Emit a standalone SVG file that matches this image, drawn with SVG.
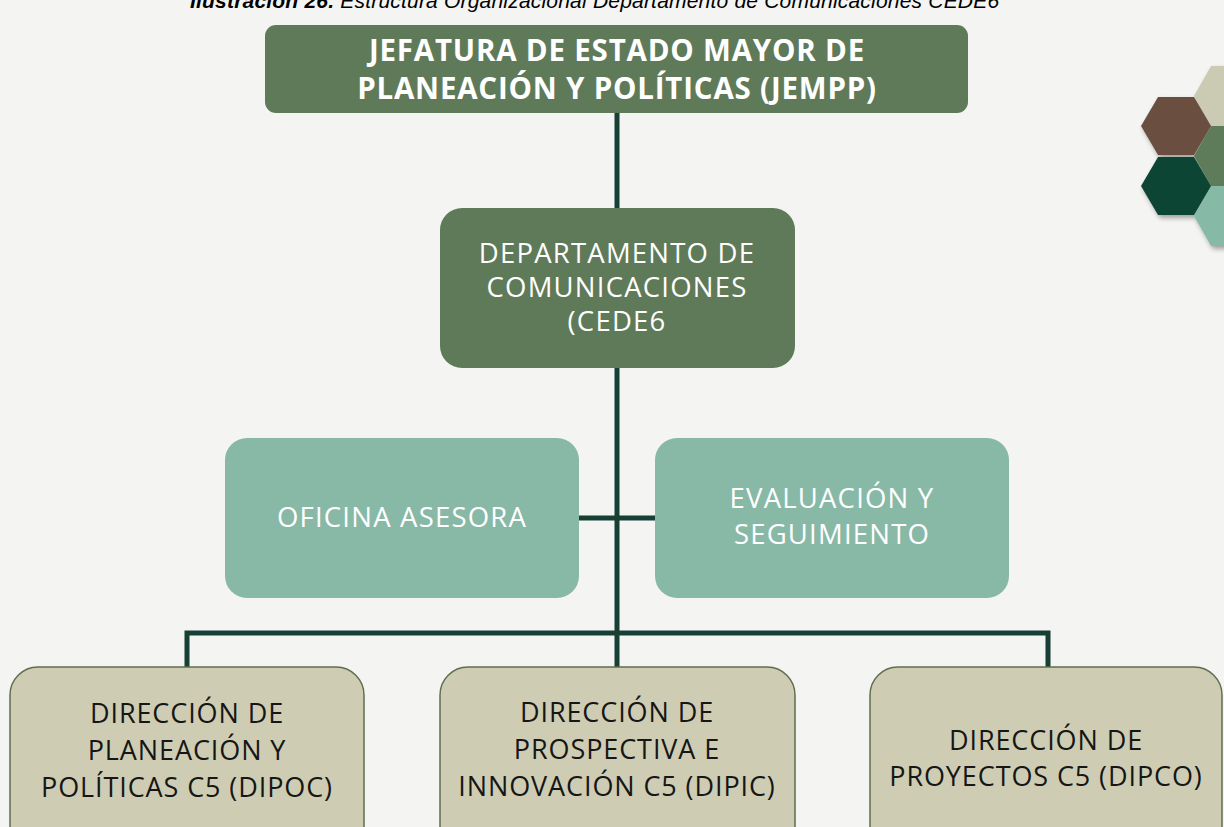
<svg xmlns="http://www.w3.org/2000/svg" width="1224" height="827" viewBox="0 0 1224 827">
<defs>
<style>
.caption{font-family:"Liberation Sans",Arial,sans-serif;font-size:21px;font-style:italic;fill:#000;letter-spacing:0.2px}
.conn{stroke:#173f33;stroke-width:5;fill:none}
.dark{fill:#5f7a59}
.mint{fill:#88b9a7}
.khaki{fill:#cecdb3;stroke:#5f6e50;stroke-width:1.5}
.tb{font-family:"Open Sans","DejaVu Sans",sans-serif;font-weight:bold;font-size:29.5px;fill:#fff;text-anchor:middle;letter-spacing:0.8px}
.tw{font-family:"Open Sans","DejaVu Sans",sans-serif;font-size:27.5px;fill:#fff;text-anchor:middle;letter-spacing:1.2px}
.tk{font-family:"Open Sans","DejaVu Sans",sans-serif;font-size:27px;fill:#161616;text-anchor:middle;letter-spacing:0.9px}
</style>
<filter id="sh" x="-20%" y="-20%" width="150%" height="150%">
<feDropShadow dx="2" dy="3" stdDeviation="2.5" flood-color="#000" flood-opacity="0.35"/>
</filter>
</defs>
<rect width="1224" height="827" fill="#f4f4f2"/>
<text class="caption" x="190" y="8"><tspan font-weight="bold">Ilustración 26.</tspan> Estructura Organizacional Departamento de Comunicaciones CEDE6</text>

<g id="hexagons" filter="url(#sh)">
<polygon points="1194,96 1211,66 1246,66 1263,96 1246,126 1211,126" fill="#cbcbb3"/>
<polygon points="1194,156 1211,126 1246,126 1263,156 1246,186 1211,186" fill="#5e7b5a"/>
<polygon points="1194,216 1211,186 1246,186 1263,216 1246,246 1211,246" fill="#86b9a6"/>
<polygon points="1141,126 1158,97 1194,97 1211,126 1194,155 1158,155" fill="#6b5041"/>
<polygon points="1141,186 1158,157 1194,157 1211,186 1194,215 1158,215" fill="#0f4535"/>
</g>

<g id="connectors">
<line class="conn" x1="617" y1="112" x2="617" y2="209"/>
<line class="conn" x1="617" y1="367" x2="617" y2="668"/>
<line class="conn" x1="578" y1="518" x2="656" y2="518"/>
<polyline class="conn" points="187,668 187,633 1048,633 1048,668"/>
</g>

<g id="jempp">
<rect class="dark" x="265" y="25" width="703" height="88" rx="11"/>
<text class="tb" x="617" y="61">JEFATURA DE ESTADO MAYOR DE</text>
<text class="tb" x="617" y="99">PLANEACIÓN Y POLÍTICAS (JEMPP)</text>
</g>

<g id="cede6">
<rect class="dark" x="440" y="208" width="355" height="160" rx="22"/>
<text class="tw" x="617" y="263">DEPARTAMENTO DE</text>
<text class="tw" x="617" y="297">COMUNICACIONES</text>
<text class="tw" x="617" y="331">(CEDE6</text>
</g>

<g id="oficina">
<rect class="mint" x="225" y="438" width="354" height="160" rx="22"/>
<text class="tw" x="402" y="527">OFICINA ASESORA</text>
</g>

<g id="evaluacion">
<rect class="mint" x="655" y="438" width="354" height="160" rx="22"/>
<text class="tw" x="832" y="508">EVALUACIÓN Y</text>
<text class="tw" x="832" y="544">SEGUIMIENTO</text>
</g>

<g id="dipoc">
<rect class="khaki" x="10" y="667" width="354" height="190" rx="28"/>
<text class="tk" x="187" y="723">DIRECCIÓN DE</text>
<text class="tk" x="187" y="760">PLANEACIÓN  Y</text>
<text class="tk" x="187" y="797">POLÍTICAS C5 (DIPOC)</text>
</g>

<g id="dipic">
<rect class="khaki" x="440" y="667" width="355" height="190" rx="28"/>
<text class="tk" x="617" y="722">DIRECCIÓN DE</text>
<text class="tk" x="617" y="759">PROSPECTIVA E</text>
<text class="tk" x="617" y="796">INNOVACIÓN C5 (DIPIC)</text>
</g>

<g id="dipco">
<rect class="khaki" x="870" y="667" width="352" height="190" rx="28"/>
<text class="tk" x="1046" y="750">DIRECCIÓN DE</text>
<text class="tk" x="1046" y="786">PROYECTOS C5 (DIPCO)</text>
</g>
</svg>
